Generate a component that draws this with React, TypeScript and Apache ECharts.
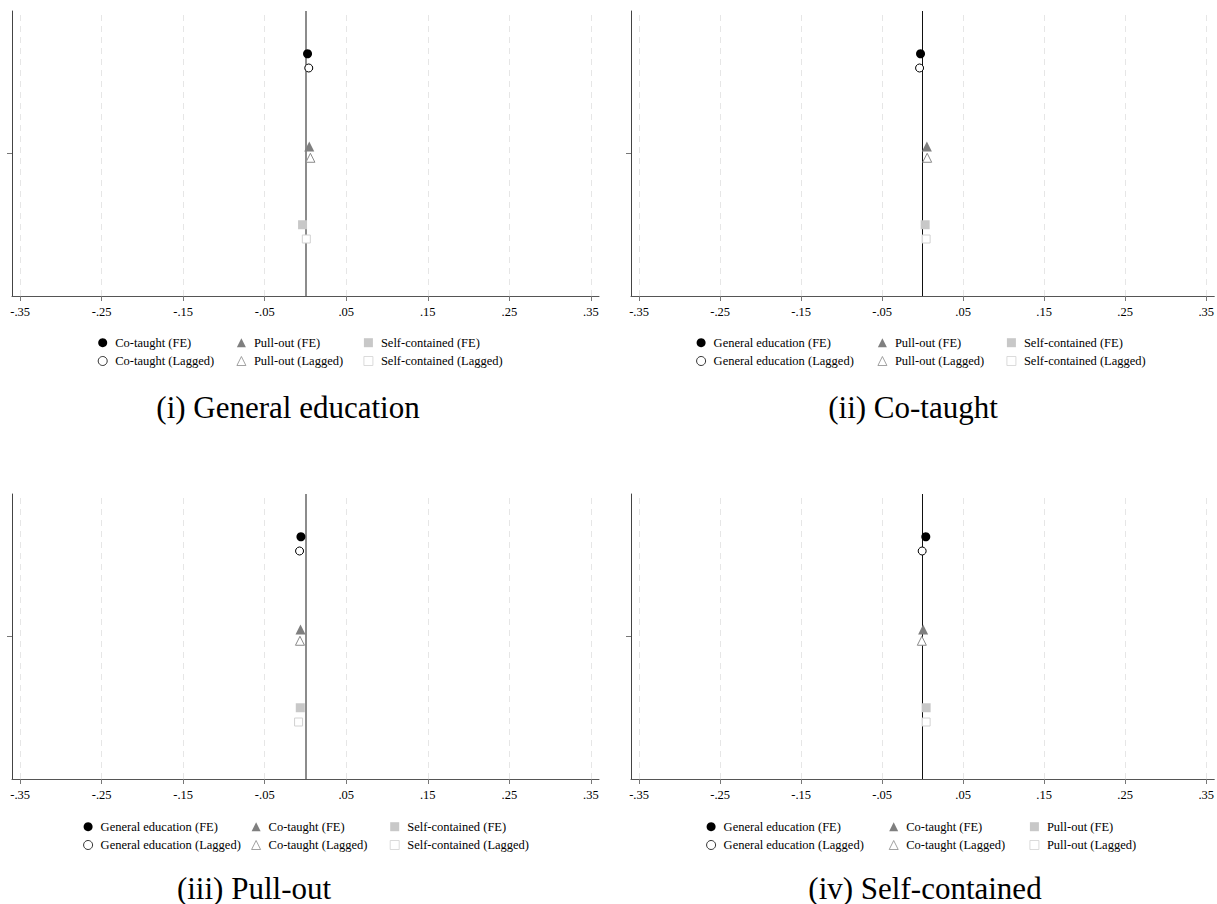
import React, { useEffect, useRef } from "react";
import * as echarts from "echarts";

const TICKS = [-0.35, -0.25, -0.15, -0.05, 0.05, 0.15, 0.25, 0.35];
const TICK_LABELS = ["-.35", "-.25", "-.15", "-.05", ".05", ".15", ".25", ".35"];
const X_MIN = -0.36;
const X_MAX = 0.36;
const Y_TICK = [0.5];
const ROW_Y_FE = [0.85, 0.525, 0.25];
const ROW_Y_LAG = [0.8, 0.485, 0.2];

const P1_NAMES = ["Co-taught", "Pull-out", "Self-contained"];
const P1_FE = [0.0025, 0.0046, -0.0036];
const P1_LAG = [0.004, 0.006, 0.001];

const P2_NAMES = ["General education", "Pull-out", "Self-contained"];
const P2_FE = [-0.0026, 0.0052, 0.0031];
const P2_LAG = [-0.0038, 0.0056, 0.0043];

const P3_NAMES = ["General education", "Co-taught", "Self-contained"];
const P3_FE = [-0.0056, -0.0061, -0.0064];
const P3_LAG = [-0.0073, -0.0068, -0.0085];

const P4_NAMES = ["General education", "Co-taught", "Pull-out"];
const P4_FE = [0.0039, 0.0006, 0.0043];
const P4_LAG = [-0.0006, -0.001, 0.0043];

const CAPTIONS = ["(i) General education", "(ii) Co-taught", "(iii) Pull-out", "(iv) Self-contained"];

const SERIF = "'Liberation Serif', 'Times New Roman', serif";

const PANELS = [
  { names: P1_NAMES, fe: P1_FE, lag: P1_LAG, left: 12, top: 11, legendX: [102.3, 241, 368], legendY: 342.7, zeroColor: "#666", zeroW: 1.5, cap: { x: 288, y: 407 } },
  { names: P2_NAMES, fe: P2_FE, lag: P2_LAG, left: 631, top: 11, legendX: [700.7, 882, 1011], legendY: 342.7, zeroColor: "#111", zeroW: 1, cap: { x: 913, y: 407 } },
  { names: P3_NAMES, fe: P3_FE, lag: P3_LAG, left: 12, top: 494, legendX: [87.7, 255.7, 394.3], legendY: 826.7, zeroColor: "#666", zeroW: 1.5, cap: { x: 254, y: 888 } },
  { names: P4_NAMES, fe: P4_FE, lag: P4_LAG, left: 631, top: 494, legendX: [710.7, 893.3, 1034], legendY: 826.7, zeroColor: "#111", zeroW: 1, cap: { x: 925, y: 888 } },
];

const STYLES_FE = [
  { symbol: "circle", symbolSize: 9, itemStyle: { color: "#000000", opacity: 1 } },
  { symbol: "triangle", symbolSize: 10, itemStyle: { color: "#7f7f7f", opacity: 1 } },
  { symbol: "rect", symbolSize: 9, itemStyle: { color: "#c8c8c8", opacity: 1 } },
];
const STYLES_LAG = [
  { symbol: "circle", symbolSize: 8, itemStyle: { color: "#ffffff", borderColor: "#000000", borderWidth: 1, opacity: 1 } },
  { symbol: "triangle", symbolSize: 9, itemStyle: { color: "#ffffff", borderColor: "#8a8a8a", borderWidth: 1, opacity: 1 } },
  { symbol: "rect", symbolSize: 8, itemStyle: { color: "#ffffff", borderColor: "#d2d2d2", borderWidth: 1, opacity: 1 } },
];

function tickLabel(v: number): string {
  const i = TICKS.findIndex((t) => Math.abs(t - v) < 1e-6);
  return i >= 0 ? TICK_LABELS[i] : "";
}

export default function App() {
  const ref = useRef<HTMLDivElement>(null);
  useEffect(() => {
    if (!ref.current) return;
    const chart = echarts.init(ref.current, undefined, { renderer: "svg" });
    const grid: any[] = [];
    const xAxis: any[] = [];
    const yAxis: any[] = [];
    const series: any[] = [];
    const legend: any[] = [];
    const graphic: any[] = [];

    PANELS.forEach((p, pi) => {
      grid.push({ left: p.left, top: p.top, width: 587, height: 285, containLabel: false });
      xAxis.push({
        type: "value",
        gridIndex: pi,
        min: X_MIN,
        max: X_MAX,
        axisLine: { show: true, onZero: false, lineStyle: { color: "#555", width: 1 } },
        axisTick: { show: true, length: 5, lineStyle: { color: "#777" }, customValues: TICKS },
        axisLabel: { show: true, customValues: TICKS, formatter: tickLabel, color: "#000", fontFamily: SERIF, fontSize: 12.5, margin: 9 },
        splitLine: { show: false },
      });
      yAxis.push({
        type: "value",
        gridIndex: pi,
        min: 0,
        max: 1,
        axisLine: { show: true, onZero: false, lineStyle: { color: "#444", width: 1 } },
        axisTick: { show: true, length: 5, lineStyle: { color: "#777" }, customValues: Y_TICK },
        axisLabel: { show: false },
        splitLine: { show: false },
      });
      const mlData: any[] = TICKS.map((t) => ({
        xAxis: t,
        lineStyle: { type: [6, 5], color: "#e6e6e6", width: 1 },
      }));
      mlData.push({ xAxis: 0, lineStyle: { type: "solid", color: p.zeroColor, width: p.zeroW } });

      p.names.forEach((nm, ri) => {
        const feName = `${nm} (FE)|${pi}`;
        const lagName = `${nm} (Lagged)|${pi}`;
        series.push({
          type: "scatter",
          name: feName,
          xAxisIndex: pi,
          yAxisIndex: pi,
          ...STYLES_FE[ri],
          z: 3,
          data: [[p.fe[ri], ROW_Y_FE[ri]]],
          ...(ri === 0
            ? {
                markLine: {
                  silent: true,
                  symbol: "none",
                  z: 1,
                  label: { show: false },
                  emphasis: { disabled: true },
                  data: mlData,
                },
              }
            : {}),
        });
        series.push({
          type: "scatter",
          name: lagName,
          xAxisIndex: pi,
          yAxisIndex: pi,
          ...STYLES_LAG[ri],
          z: 3,
          data: [[p.lag[ri], ROW_Y_LAG[ri]]],
        });
        legend.push({
          orient: "vertical",
          left: p.legendX[ri] - 4.5,
          top: p.legendY - 7,
          padding: 0,
          itemWidth: 9,
          itemHeight: 9,
          itemGap: 4.3,
          selectedMode: false,
          itemStyle: { borderWidth: 0.8 },
          data: [feName, lagName],
          formatter: (n: string) => n.split("|")[0],
          textStyle: { color: "#000", fontFamily: SERIF, fontSize: 12.5, lineHeight: 14, padding: [0, 0, 0, 3] },
        });
      });

      graphic.push({
        type: "text",
        x: p.cap.x,
        y: p.cap.y,
        style: {
          text: CAPTIONS[pi],
          fontFamily: SERIF,
          fontSize: 31,
          fill: "#000",
          textAlign: "center",
          textVerticalAlign: "middle",
        },
      });
    });

    chart.setOption({
      animation: false,
      backgroundColor: "#ffffff",
      grid,
      xAxis,
      yAxis,
      series,
      legend,
      graphic,
    });
    return () => chart.dispose();
  }, []);
  return (
    <div
      ref={ref}
      style={{ position: "absolute", left: 0, top: 0, width: 1217, height: 904, background: "#fff" }}
    />
  );
}
